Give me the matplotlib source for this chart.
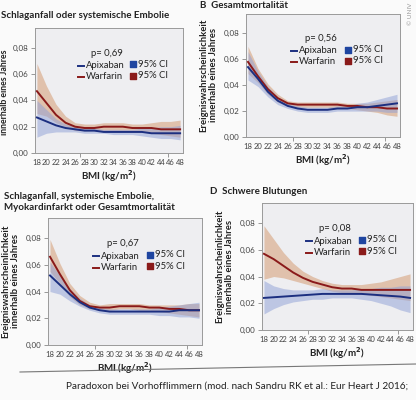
import matplotlib
matplotlib.use("Agg")
import matplotlib.pyplot as plt
import numpy as np

plt.rcParams['font.family'] = ['Lato', 'DejaVu Sans']

bmi = [18, 20, 22, 24, 26, 28, 30, 32, 34, 36, 38, 40, 42, 44, 46, 48]
xtick_labels = [str(v) for v in bmi]
yticks = [0.00, 0.02, 0.04, 0.06, 0.08]
ytick_labels = ["0,00", "0,02", "0,04", "0,06", "0,08"]

# Panel A: Schlaganfall oder systemische Embolie
a_api = [0.027, 0.024, 0.021, 0.019, 0.018, 0.017, 0.017, 0.016, 0.016, 0.016, 0.016, 0.016, 0.015, 0.015, 0.015, 0.015]
a_api_lo = [0.012, 0.015, 0.016, 0.016, 0.016, 0.015, 0.015, 0.015, 0.014, 0.014, 0.014, 0.013, 0.012, 0.011, 0.011, 0.010]
a_api_hi = [0.040, 0.033, 0.026, 0.022, 0.020, 0.019, 0.019, 0.018, 0.018, 0.018, 0.018, 0.019, 0.019, 0.020, 0.020, 0.021]
a_war = [0.047, 0.038, 0.029, 0.023, 0.020, 0.019, 0.019, 0.020, 0.020, 0.020, 0.019, 0.019, 0.019, 0.018, 0.018, 0.018]
a_war_lo = [0.030, 0.028, 0.023, 0.020, 0.017, 0.017, 0.017, 0.017, 0.017, 0.017, 0.016, 0.016, 0.015, 0.014, 0.013, 0.012]
a_war_hi = [0.068, 0.051, 0.037, 0.028, 0.023, 0.022, 0.022, 0.023, 0.023, 0.023, 0.022, 0.022, 0.023, 0.024, 0.024, 0.025]

# Panel B: Gesamtmortalitaet
b_api = [0.054, 0.045, 0.035, 0.028, 0.024, 0.022, 0.021, 0.021, 0.021, 0.022, 0.022, 0.023, 0.023, 0.024, 0.025, 0.026]
b_api_lo = [0.044, 0.039, 0.031, 0.025, 0.022, 0.020, 0.019, 0.019, 0.019, 0.020, 0.020, 0.020, 0.020, 0.020, 0.019, 0.019]
b_api_hi = [0.066, 0.051, 0.039, 0.031, 0.026, 0.024, 0.023, 0.023, 0.023, 0.024, 0.024, 0.026, 0.027, 0.029, 0.031, 0.033]
b_war = [0.058, 0.047, 0.037, 0.030, 0.026, 0.025, 0.025, 0.025, 0.025, 0.025, 0.024, 0.024, 0.023, 0.023, 0.022, 0.022]
b_war_lo = [0.049, 0.042, 0.033, 0.027, 0.024, 0.023, 0.023, 0.023, 0.023, 0.022, 0.022, 0.021, 0.020, 0.019, 0.017, 0.016]
b_war_hi = [0.070, 0.053, 0.041, 0.033, 0.028, 0.027, 0.027, 0.027, 0.027, 0.027, 0.026, 0.026, 0.026, 0.027, 0.028, 0.029]

# Panel C: Schlaganfall, systemische Embolie, Myokardinfarkt oder Gesamtmortalitaet
c_api = [0.052, 0.045, 0.038, 0.032, 0.028, 0.026, 0.025, 0.025, 0.025, 0.025, 0.025, 0.025, 0.025, 0.026, 0.026, 0.026]
c_api_lo = [0.040, 0.038, 0.033, 0.029, 0.026, 0.024, 0.023, 0.023, 0.023, 0.023, 0.023, 0.022, 0.022, 0.021, 0.021, 0.020]
c_api_hi = [0.062, 0.052, 0.042, 0.035, 0.030, 0.028, 0.027, 0.027, 0.027, 0.027, 0.027, 0.028, 0.029, 0.030, 0.031, 0.032]
c_war = [0.066, 0.053, 0.041, 0.033, 0.029, 0.028, 0.028, 0.029, 0.029, 0.029, 0.028, 0.028, 0.027, 0.027, 0.026, 0.026]
c_war_lo = [0.055, 0.046, 0.036, 0.030, 0.027, 0.026, 0.026, 0.027, 0.027, 0.026, 0.026, 0.025, 0.024, 0.023, 0.022, 0.021]
c_war_hi = [0.079, 0.061, 0.046, 0.037, 0.032, 0.030, 0.031, 0.031, 0.031, 0.031, 0.030, 0.030, 0.030, 0.030, 0.031, 0.031]

# Panel D: Schwere Blutungen
d_api = [0.024, 0.0245, 0.025, 0.0255, 0.026, 0.0265, 0.027, 0.027, 0.027, 0.027, 0.027, 0.0265, 0.026, 0.0255, 0.025, 0.024]
d_api_lo = [0.012, 0.016, 0.019, 0.021, 0.022, 0.023, 0.023, 0.024, 0.024, 0.024, 0.023, 0.022, 0.020, 0.018, 0.015, 0.013]
d_api_hi = [0.037, 0.033, 0.031, 0.030, 0.030, 0.030, 0.031, 0.030, 0.030, 0.030, 0.031, 0.031, 0.032, 0.032, 0.033, 0.033]
d_war = [0.057, 0.053, 0.048, 0.043, 0.039, 0.036, 0.034, 0.032, 0.031, 0.031, 0.030, 0.030, 0.030, 0.030, 0.030, 0.030]
d_war_lo = [0.038, 0.040, 0.039, 0.037, 0.035, 0.033, 0.031, 0.029, 0.028, 0.027, 0.027, 0.026, 0.025, 0.024, 0.023, 0.022]
d_war_hi = [0.078, 0.068, 0.058, 0.050, 0.044, 0.040, 0.037, 0.035, 0.034, 0.034, 0.034, 0.035, 0.036, 0.038, 0.040, 0.042]

W, H = 416, 400
BLUE = "#1c2f80"
RED = "#8a1a1a"
BLUE_CI = "#8e9fd6"
RED_CI = "#d7a47f"
TXT = "#222222"

fig = plt.figure(figsize=(W / 100, H / 100), dpi=100)
fig.patch.set_facecolor("#fafafa")


def px_axes(left, top, right, bottom):
    return fig.add_axes([left / W, 1 - bottom / H, (right - left) / W, (bottom - top) / H])


def panel(box, api, api_lo, api_hi, war, war_lo, war_hi, ptxt):
    ax = px_axes(*box)
    ax.set_facecolor("#eeeef1")
    ax.fill_between(bmi, war_lo, war_hi, color=RED_CI, alpha=0.6, lw=0, zorder=2)
    ax.fill_between(bmi, api_lo, api_hi, color=BLUE_CI, alpha=0.5, lw=0, zorder=3)
    ax.plot(bmi, war, color=RED, lw=1.4, zorder=4)
    ax.plot(bmi, api, color=BLUE, lw=1.4, zorder=5)
    ax.set_xlim(17.6, 48.6)
    ax.set_ylim(0, 0.095)
    ax.set_yticks(yticks)
    ax.set_yticklabels(ytick_labels, fontsize=5.8, color="#444")
    ax.set_xticks(bmi)
    ax.set_xticklabels(xtick_labels, fontsize=5.5, color="#444")
    ax.tick_params(axis="x", length=0, pad=4)
    ax.tick_params(axis="y", length=3, width=0.6, color="#888", pad=2)
    ax.set_xticks([18, 27, 36, 45.5], minor=True)
    ax.tick_params(axis="x", which="minor", length=3, width=0.6, color="#888", direction="out")
    for s in ax.spines.values():
        s.set_color("#9a9a9a")
        s.set_linewidth(0.7)
    ax.set_xlabel("BMI (kg/m$^\\mathbf{2}$)", fontsize=7, fontweight="bold", color=TXT, labelpad=2)
    # legend
    fs = 6.8
    ax.text(0.38, 0.80, ptxt, transform=ax.transAxes, fontsize=fs, color=TXT, va="center")
    ax.plot([0.29, 0.33], [0.70, 0.70], transform=ax.transAxes, color=BLUE, lw=1.4)
    ax.text(0.345, 0.70, "Apixaban", transform=ax.transAxes, fontsize=fs, color=TXT, va="center")
    ax.plot([0.29, 0.33], [0.61, 0.61], transform=ax.transAxes, color=RED, lw=1.4)
    ax.text(0.345, 0.61, "Warfarin", transform=ax.transAxes, fontsize=fs, color=TXT, va="center")
    ax.scatter([0.66], [0.71], transform=ax.transAxes, marker="s", s=18, color="#1f45a0", zorder=6)
    ax.text(0.695, 0.71, "95% CI", transform=ax.transAxes, fontsize=fs, color=TXT, va="center")
    ax.scatter([0.66], [0.62], transform=ax.transAxes, marker="s", s=18, color=RED, zorder=6)
    ax.text(0.695, 0.62, "95% CI", transform=ax.transAxes, fontsize=fs, color=TXT, va="center")
    return ax


axA = panel((35, 28, 183, 153), a_api, a_api_lo, a_api_hi, a_war, a_war_lo, a_war_hi, "p= 0,69")
axB = panel((246, 14, 400, 137), b_api, b_api_lo, b_api_hi, b_war, b_war_lo, b_war_hi, "p= 0,56")
axC = panel((48, 218, 202, 345), c_api, c_api_lo, c_api_hi, c_war, c_war_lo, c_war_hi, "p= 0,67")
axD = panel((262, 203, 413, 330), d_api, d_api_lo, d_api_hi, d_war, d_war_lo, d_war_hi, "p= 0,08")

YL = "Ereigniswahrscheinlichkeit\ninnerhalb eines Jahres"
for ax in (axB, axC, axD):
    ax.set_ylabel(YL, fontsize=6.8, fontweight="bold", color=TXT, labelpad=4, linespacing=1.1)


def ftext(x, y, s, **kw):
    fig.text(x / W, 1 - y / H, s, **kw)


ftext(5, 92, "innerhalb eines Jahres", fontsize=6.3, fontweight="bold", color=TXT,
      rotation=90, va="center", ha="center")
ftext(1, 16, "Schlaganfall oder systemische Embolie", fontsize=7, fontweight="bold", color=TXT, va="center")
ftext(200, 6, "B  Gesamtmortalität", fontsize=7, fontweight="bold", color=TXT, va="center")
ftext(4, 197, "Schlaganfall, systemische Embolie,", fontsize=7, fontweight="bold", color=TXT, va="center")
ftext(4, 208, "Myokardinfarkt oder Gesamtmortalität", fontsize=7, fontweight="bold", color=TXT, va="center")
ftext(210, 192, "D  Schwere Blutungen", fontsize=7, fontweight="bold", color=TXT, va="center")
ftext(410, 14, "© UNIV", fontsize=4.5, color="#999", rotation=90, va="center", ha="center")

fig.add_artist(plt.Line2D([20 / W, 416 / W], [1 - 372 / H, 1 - 364 / H], color="#777", lw=0.8))
ftext(66, 386, "Paradoxon bei Vorhofflimmern (mod. nach Sandru RK et al.: Eur Heart J 2016;",
      fontsize=7.2, color="#222", va="center")

fig.savefig("out.png", dpi=100, facecolor=fig.get_facecolor())
